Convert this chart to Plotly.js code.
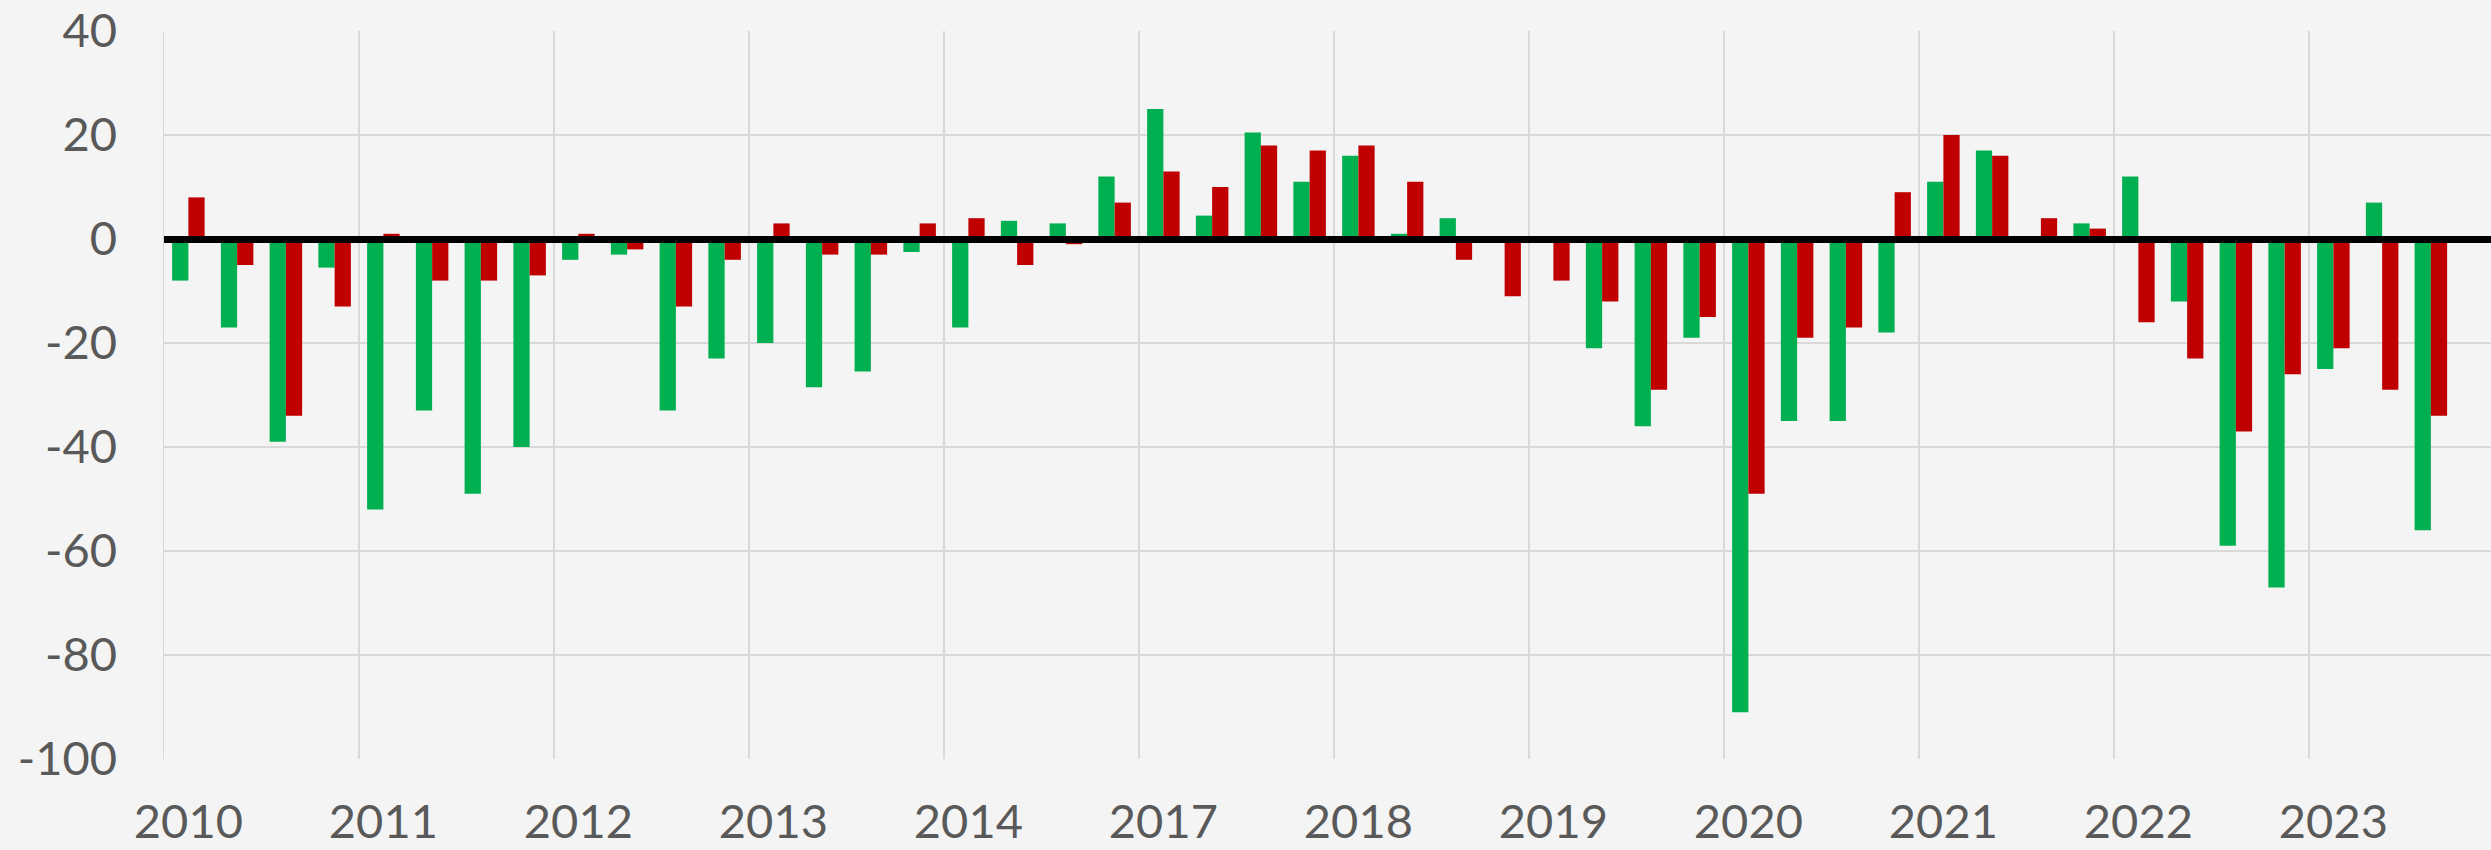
<!DOCTYPE html>
<html>
<head>
<meta charset="utf-8">
<script src="https://cdn.plot.ly/plotly-3.0.1.min.js"></script>
<style>html,body{margin:0;padding:0;background:#f4f4f4;}#chart{width:2491px;height:850px;}</style>
</head>
<body>
<div id="chart"></div>
<script>
const years = ['2010','2011','2012','2013','2014','2017','2018','2019','2020','2021','2022','2023'];
const quarters = ['Q1','Q2','Q3','Q4'];
const greenValues = [
  -8, -17, -39, -5.5,
  -52, -33, -49, -40,
  -4, -3, -33, -23,
  -20, -28.5, -25.5, -2.5,
  -17, 3.5, 3, 12,
  25, 4.5, 20.5, 11,
  16, 1, 4, -0.5,
  0, -21, -36, -19,
  -91, -35, -35, -18,
  11, 17, 0, 3,
  12, -12, -59, -67,
  -25, 7, -56, null
];
const redValues = [
  8, -5, -34, -13,
  1, -8, -8, -7,
  1, -2, -13, -4,
  3, -3, -3, 3,
  4, -5, -1, 7,
  13, 10, 18, 17,
  18, 11, -4, -11,
  -8, -12, -29, -15,
  -49, -19, -17, 9,
  20, 16, 4, 2,
  -16, -23, -37, -26,
  -21, -29, -34, null
];
const yTicks = [-100, -80, -60, -40, -20, 0, 20, 40];
const yTickText = ['-100', '-80', '-60', '-40', '-20', '0', '20', '40'];

const xIdx = [];
const xLabels = [];
years.forEach(y => quarters.forEach(q => { xIdx.push(xIdx.length); xLabels.push(y + ' ' + q); }));
const yearTickVals = years.map((_, i) => i * quarters.length);
const yearBounds = years.map((_, i) => i * quarters.length - 0.5);

const font = {family: 'Lato, "DejaVu Sans", sans-serif', size: 47, color: '#595959'};

const traces = [
  {type: 'bar', x: xIdx, y: greenValues, text: xLabels, textposition: 'none', hoverinfo: 'text+y', marker: {color: '#00b050'}, name: 'green'},
  {type: 'bar', x: xIdx, y: redValues, text: xLabels, textposition: 'none', hoverinfo: 'text+y', marker: {color: '#c00000'}, name: 'red'}
];

const layout = {
  width: 2491, height: 850,
  margin: {l: 164, r: 0, t: 31, b: 91, pad: 0},
  paper_bgcolor: '#f4f4f4', plot_bgcolor: '#f4f4f4',
  showlegend: false,
  barmode: 'group', bargap: 0.333, bargroupgap: 0,
  font: font,
  xaxis: {
    range: [-0.5, -0.5 + 2327 / 48.75],
    tickmode: 'array', tickvals: yearTickVals, ticktext: years,
    showgrid: false, zeroline: false, ticks: '', ticklabelstandoff: 31,
    tickfont: font,
    minor: {tickmode: 'array', tickvals: yearBounds, showgrid: true, gridcolor: '#d9d9d9', gridwidth: 1.5, ticks: ''},
    showline: false
  },
  yaxis: {
    range: [-100, 40],
    tickmode: 'array', tickvals: yTicks, ticktext: yTickText,
    showgrid: true, gridcolor: '#d9d9d9', gridwidth: 2,
    zeroline: true, zerolinecolor: '#000000', zerolinewidth: 7,
    zerolinelayer: 'above traces',
    ticks: '', ticklabelstandoff: 36,
    tickfont: font,
    showline: true, linecolor: '#d9d9d9', linewidth: 1.5
  }
};

Plotly.newPlot('chart', traces, layout, {displayModeBar: false, staticPlot: true});
</script>
</body>
</html>
